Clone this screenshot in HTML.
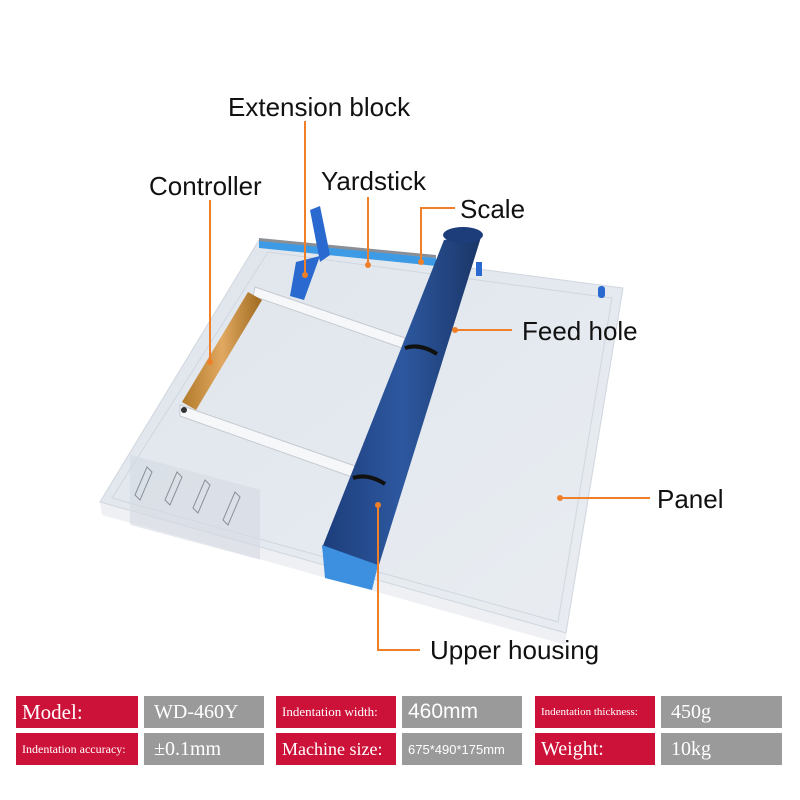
<!DOCTYPE html>
<html><head><meta charset="utf-8"><style>
html,body{margin:0;padding:0;background:#fff;}
body{width:800px;height:800px;position:relative;overflow:hidden;font-family:"Liberation Sans",sans-serif;}
.lbl{position:absolute;font-size:26px;color:#111;line-height:1;white-space:nowrap;}
.c{position:absolute;height:32px;color:#fff;font-family:"Liberation Serif",serif;display:flex;align-items:center;padding-left:6px;box-sizing:border-box;}
.r{background:#cc1238;}
.g{background:#9a9a9a;}
</style></head><body>
<svg width="800" height="800" style="position:absolute;left:0;top:0">
<defs>
<linearGradient id="pan" x1="0" y1="0" x2="1" y2="1"><stop offset="0" stop-color="#dfe5ec"/><stop offset="1" stop-color="#e9edf2"/></linearGradient>
<linearGradient id="rol" x1="0" y1="0" x2="1" y2="0"><stop offset="0" stop-color="#1d3d7a"/><stop offset="0.5" stop-color="#2d58a0"/><stop offset="1" stop-color="#1a3566"/></linearGradient>
<linearGradient id="wood" x1="0" y1="0" x2="1" y2="0"><stop offset="0" stop-color="#b27a2a"/><stop offset="0.5" stop-color="#e0a860"/><stop offset="1" stop-color="#a06a20"/></linearGradient>
</defs>
<polygon points="100,502 566,633 566,645 102,515" fill="#eef0f3"/>
<polygon points="259,240 623,288 566,633 100,502" fill="url(#pan)" stroke="#d0d6de"/>
<polygon points="268,252 612,298 558,622 112,498" fill="none" stroke="#cfd6df" stroke-width="1"/>
<rect x="130" y="460" width="130" height="70" fill="#d6dbe2" transform="skewY(15) translate(0,-40)" opacity="0.6"/>
<g stroke="#8a9099" fill="none" stroke-width="1">
<path d="M135,495 l12,-28 l5,5 l-12,28z"/><path d="M165,500 l12,-28 l5,5 l-12,28z"/><path d="M193,508 l12,-28 l5,5 l-12,28z"/><path d="M223,520 l12,-28 l5,5 l-12,28z"/>
</g>
<polygon points="259,240 436,258 436,266 259,248" fill="#3d9be6"/>
<polygon points="259,238 436,255 436,258 259,241" fill="#8a8f95"/>
<polygon points="310,210 320,206 330,255 320,262" fill="#2a6ad0"/>
<polygon points="296,262 320,256 304,300 290,296" fill="#2a6ad0"/>
<polygon points="255,287 405,338 402,348 253,296" fill="#f6f7f9" stroke="#c5cad2"/>
<polygon points="180,405 355,466 352,477 180,416" fill="#f6f7f9" stroke="#c5cad2"/>
<polygon points="248,292 262,300 196,410 182,402" fill="url(#wood)"/>
<circle cx="184" cy="410" r="3" fill="#333"/>
<polygon points="444,240 482,234 378,568 322,548" fill="url(#rol)"/>
<ellipse cx="463" cy="235" rx="20" ry="8" fill="#1d3d7a"/>
<polygon points="322,545 378,565 372,590 325,578" fill="#3d8fe0"/>
<path d="M405,348 q15,-5 32,6" stroke="#111" stroke-width="4" fill="none"/>
<path d="M353,478 q15,-5 32,6" stroke="#111" stroke-width="4" fill="none"/>
<rect x="476" y="262" width="6" height="14" fill="#2a6ad0"/>
<rect x="598" y="286" width="7" height="12" rx="3" fill="#2a6ad0"/>
<g stroke="#f07f2a" stroke-width="2" fill="none">
<path d="M305,121 V275"/><path d="M210,200 V362"/><path d="M368,197 V265"/>
<path d="M455,208 H421 V262"/><path d="M455,330 H512"/><path d="M560,498 H650"/>
<path d="M378,505 V650 H420"/>
</g>
<g fill="#f07f2a"><circle cx="305" cy="275" r="3"/><circle cx="210" cy="362" r="3"/><circle cx="368" cy="265" r="3"/><circle cx="421" cy="262" r="3"/><circle cx="455" cy="330" r="3"/><circle cx="560" cy="498" r="3"/><circle cx="378" cy="505" r="3"/></g>
</svg>
<div class="lbl" style="left:228px;top:94px">Extension block</div>
<div class="lbl" style="left:149px;top:173px">Controller</div>
<div class="lbl" style="left:321px;top:168px">Yardstick</div>
<div class="lbl" style="left:460px;top:196px">Scale</div>
<div class="lbl" style="left:522px;top:318px">Feed hole</div>
<div class="lbl" style="left:657px;top:486px">Panel</div>
<div class="lbl" style="left:430px;top:637px">Upper housing</div>

<div class="c r" style="left:16px;top:696px;width:122px;font-size:21px">Model:</div>
<div class="c g" style="left:144px;top:696px;width:120px;font-size:20px;padding-left:10px">WD-460Y</div>
<div class="c r" style="left:276px;top:696px;width:120px;font-size:13px">Indentation width:</div>
<div class="c g" style="left:402px;top:696px;width:120px;font-size:21px;font-family:'Liberation Sans',sans-serif">460mm</div>
<div class="c r" style="left:535px;top:696px;width:120px;font-size:11px">Indentation thickness:</div>
<div class="c g" style="left:661px;top:696px;width:121px;font-size:20px;padding-left:10px">450g</div>
<div class="c r" style="left:16px;top:733px;width:122px;font-size:12px">Indentation accuracy:</div>
<div class="c g" style="left:144px;top:733px;width:120px;font-size:20px;padding-left:10px">±0.1mm</div>
<div class="c r" style="left:276px;top:733px;width:120px;font-size:18px">Machine size:</div>
<div class="c g" style="left:402px;top:733px;width:120px;font-size:13px;font-family:'Liberation Sans',sans-serif">675*490*175mm</div>
<div class="c r" style="left:535px;top:733px;width:120px;font-size:20px">Weight:</div>
<div class="c g" style="left:661px;top:733px;width:121px;font-size:20px;padding-left:10px">10kg</div>
</body></html>
